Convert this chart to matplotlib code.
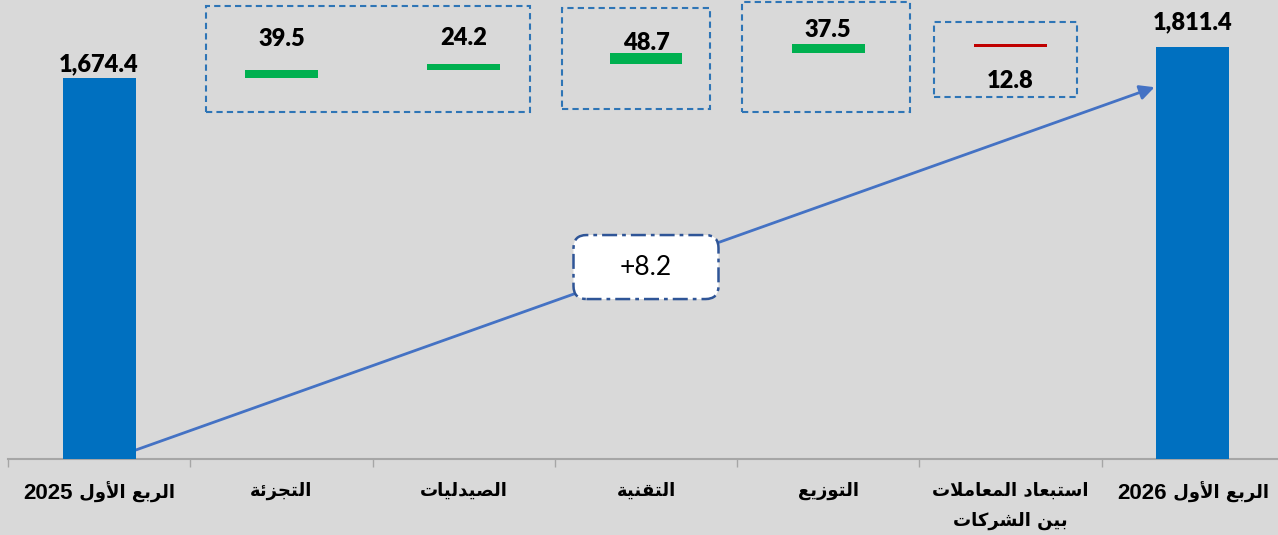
import re
import matplotlib
matplotlib.use('Agg')
import matplotlib.pyplot as plt
import matplotlib.transforms as mtransforms
from matplotlib.patches import FancyBboxPatch, Rectangle
from matplotlib.offsetbox import TextArea, HPacker, VPacker, AnnotationBbox

# data
labels = ['الربع الأول 2025', 'التجزئة', 'الصيدليات', 'التقنية', 'التوزيع',
          'استبعاد المعاملات\nبين الشركات', 'الربع الأول 2026']
start_value = 1674.4
changes = [39.5, 24.2, 48.7, 37.5, -12.8]
end_value = 1811.4
growth_text = '+8.2'

# dashed frames around the changes: (x0, x1, y0, y1) in data units
frames = [(0.586, 2.363, 1527, 1993), (2.539, 3.351, 1538, 1986),
          (3.526, 4.448, 1527, 2013), (4.58, 5.364, 1593, 1924)]

BG = '#D9D9D9'
BLUE = '#0070C0'
GREEN = '#00B050'
RED = '#C00000'

# --- tiny arabic shaper (matplotlib has no text shaping) ---
DUAL = {'ب': 0xFE8F, 'ت': 0xFE95, 'ج': 0xFE9D, 'س': 0xFEB1, 'ش': 0xFEB5,
        'ص': 0xFEB9, 'ع': 0xFEC9, 'ق': 0xFED5, 'ك': 0xFED9, 'ل': 0xFEDD,
        'م': 0xFEE1, 'ن': 0xFEE5, 'ي': 0xFEF1, 'ئ': 0xFE89}
RIGHT = {'ا': 0xFE8D, 'أ': 0xFE83, 'د': 0xFEA9, 'ر': 0xFEAD, 'ز': 0xFEAF,
         'و': 0xFEED, 'ة': 0xFE93}
LAMALEF = {'ا': 0xFEFB, 'أ': 0xFEF7}


def shape_line(s):
    units = []
    i = 0
    while i < len(s):
        if s[i] == 'ل' and i + 1 < len(s) and s[i + 1] in LAMALEF:
            units.append(('LA', s[i + 1]))
            i += 2
        else:
            units.append(s[i])
            i += 1
    out = []
    for k, u in enumerate(units):
        prev = units[k - 1] if k > 0 else None
        nxt = units[k + 1] if k + 1 < len(units) else None
        jp = prev in DUAL
        jn = u in DUAL and (nxt in DUAL or nxt in RIGHT or isinstance(nxt, tuple))
        if isinstance(u, tuple):
            out.append(chr(LAMALEF[u[1]] + (1 if jp else 0)))
        elif u in DUAL:
            out.append(chr(DUAL[u] + (3 if jp and jn else 1 if jp else 2 if jn else 0)))
        elif u in RIGHT:
            out.append(chr(RIGHT[u] + (1 if jp else 0)))
        else:
            out.append(u)
    vis = ''.join(out)[::-1]
    return re.sub(r'[0-9.,+]+', lambda m: m.group()[::-1], vis)


def label_box(text):
    # digits in Liberation Sans, arabic in DejaVu Sans (a bit smaller, it runs wide)
    lines = []
    for line in text.split('\n'):
        vis = shape_line(line)
        parts = []
        for run in re.findall(r'[0-9]+|[^0-9]+', vis):
            if run.isdigit():
                tp = dict(fontsize=16, weight='bold', family='Liberation Sans')
            else:
                tp = dict(fontsize=13, weight='bold', family='DejaVu Sans')
            parts.append(TextArea(run, textprops=tp))
        lines.append(HPacker(children=parts, sep=0, align='baseline', pad=0))
    return VPacker(children=lines, sep=9, align='center', pad=0)


fig = plt.figure(figsize=(12.78, 5.35), dpi=100, facecolor=BG)
ax = fig.add_axes([8 / 1278, 76.3 / 535, 1276 / 1278, 458.7 / 535])
ax.set_facecolor(BG)
ax.set_xlim(-0.5, 6.5)
ax.set_ylim(0, 2020)

w = 0.4
n = len(labels)
# totals
ax.bar([0, n - 1], [start_value, end_value], width=w, color=BLUE, zorder=3)

# floating changes
cum = start_value
bottoms = []
for c in changes:
    bottoms.append(cum if c >= 0 else cum + c)
    cum += c
cols = [GREEN if c >= 0 else RED for c in changes]
xs = list(range(1, n - 1))
ax.bar(xs, [abs(c) for c in changes], bottom=bottoms, width=w, color=cols, zorder=3)

numfont = dict(family='Lato', weight='heavy', fontsize=17, color='black')
px = 72 / 100  # pixels -> points

# value labels (offsets in pixels from the bar edge)
ax.annotate(f'{start_value:,.1f}', (0, start_value), xytext=(0, 14 * px),
            textcoords='offset points', ha='center', va='center', **numfont)
ax.annotate(f'{end_value:,.1f}', (n - 1, end_value), xytext=(0, 25 * px),
            textcoords='offset points', ha='center', va='center', **numfont)
offs = [31, 26, 10, 14, -34]
for x, b, c, o in zip(xs, bottoms, changes, offs):
    ref = b + abs(c) if o > 0 else b
    ax.annotate(f'{abs(c):.1f}', (x, ref), xytext=(0, o * px),
                textcoords='offset points', ha='center', va='center', **numfont)

for x0, x1, y0, y1 in frames:
    ax.add_patch(Rectangle((x0, y0), x1 - x0, y1 - y0, fill=False, ec='#2E75B6',
                           lw=1.5, ls=(0, (3, 2)), zorder=4, clip_on=False))

# growth arrow from first bar to last bar
ax.annotate('', xy=(n - 1 - w / 2 - 0.01, 1636), xytext=(w / 2, 38),
            arrowprops=dict(arrowstyle='-|>', color='#4472C4', lw=2,
                            mutation_scale=22, shrinkA=0, shrinkB=0), zorder=2)

# growth box
trans = fig.dpi_scale_trans + mtransforms.ScaledTranslation(3.0, 844, ax.transData)
ax.add_patch(FancyBboxPatch((-0.725, -0.32), 1.45, 0.64,
                            boxstyle='round,pad=0,rounding_size=0.13',
                            fc='white', ec='#2F5597', lw=1.8,
                            ls=(0, (6, 2, 1.5, 2)),
                            transform=trans, zorder=5))
ax.text(3.0, 844, growth_text, ha='center', va='center', fontsize=19,
        family='Lato', color='black', zorder=6)

# axis
for s in ['top', 'left', 'right']:
    ax.spines[s].set_visible(False)
ax.spines['bottom'].set_color('#A6A6A6')
ax.spines['bottom'].set_linewidth(1.5)
ax.set_yticks([])
ax.set_xticks([i - 0.5 for i in range(n + 1)])
ax.set_xticklabels([])
ax.tick_params(axis='x', length=6, width=1, color='#A6A6A6', direction='out')

for i, lab in enumerate(labels):
    ab = AnnotationBbox(label_box(lab), (i, 0), xycoords=('data', 'axes fraction'),
                        xybox=(0, -23 * px), boxcoords='offset points',
                        box_alignment=(0.5, 1), frameon=False, pad=0,
                        annotation_clip=False)
    ax.add_artist(ab)

fig.savefig('out.png', dpi=100, facecolor=BG)
